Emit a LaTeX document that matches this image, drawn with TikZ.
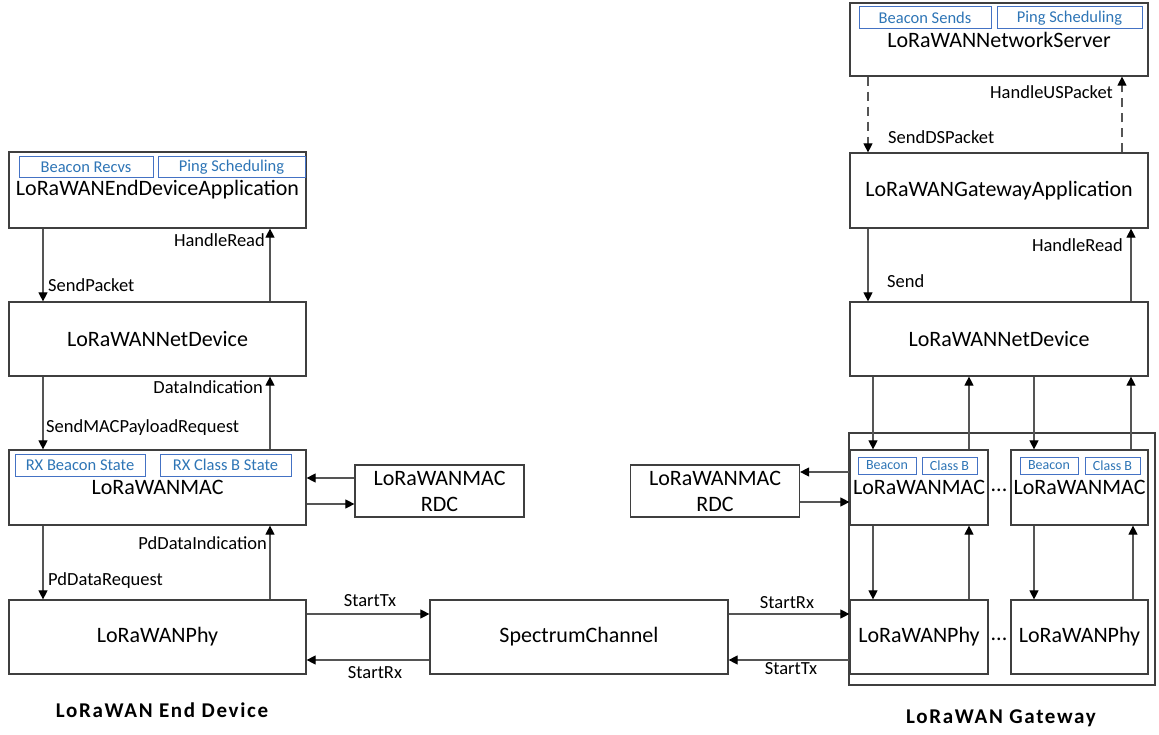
\documentclass[tikz,border=0pt]{standalone}
\usepackage{fontspec}
\setmainfont{Carlito}
\usetikzlibrary{arrows.meta,positioning}
\definecolor{boxgray}{HTML}{3F3F3F}
\definecolor{linegray}{HTML}{555555}
\definecolor{subblue}{HTML}{4472C4}
\definecolor{subtext}{HTML}{2E75B6}
\tikzset{
  mainbox/.style={draw=boxgray,line width=1.2pt,fill=white,inner sep=0pt,font=\fontsize{22}{26}\selectfont},
  subbox/.style={draw=subblue,line width=1pt,inner sep=0pt,text=subtext,font=\fontsize{16.5}{19}\selectfont},
  tinybox/.style={draw=subblue,line width=0.9pt,inner sep=0pt,text=subtext,font=\fontsize{14}{16}\selectfont},
  lbl/.style={inner sep=0pt,font=\fontsize{18.5}{21}\selectfont},
  arr/.style={draw=linegray,line width=1.1pt,-{Triangle[length=9pt,width=9pt,color=black]}},
  darr/.style={arr,dash pattern=on 9pt off 6pt},
  title/.style={inner sep=0pt,font=\fontsize{21}{25}\selectfont\bfseries\addfontfeatures{LetterSpace=8}}
}
\begin{document}
\begin{tikzpicture}[x=1pt,y=-1pt]
\useasboundingbox (0,0) rectangle (1159,735);
% ---------- End device side ----------
\node[mainbox,minimum width=297pt,minimum height=76pt] (app) at (157.5,190) {LoRaWANEndDeviceApplication};
\node[subbox,minimum width=134pt,minimum height=21pt] (br) at (86,167.5) {Beacon Recvs};
\node[subbox,minimum width=147pt,minimum height=21pt] (ps1) at (231.5,167.5) {Ping Scheduling};
\node[mainbox,minimum width=297pt,minimum height=74pt] (nd) at (157.5,339) {LoRaWANNetDevice};
\node[mainbox,minimum width=297pt,minimum height=75pt] (mac) at (157.5,487.5) {LoRaWANMAC};
\node[subbox,minimum width=130pt,minimum height=22pt] (rxb) at (80,465) {RX Beacon State};
\node[subbox,minimum width=131pt,minimum height=22pt] (rxc) at (225.5,465) {RX Class B State};
\node[mainbox,minimum width=169pt,minimum height=52pt,align=center] (rdc1) at (439.5,491) {LoRaWANMAC\\RDC};
\node[mainbox,minimum width=297pt,minimum height=74pt] (phy) at (157.5,637) {LoRaWANPhy};
\node[mainbox,minimum width=298pt,minimum height=74pt] (sc) at (579,637) {SpectrumChannel};
% ---------- Gateway side ----------
\node[mainbox,minimum width=298pt,minimum height=73pt] (ns) at (999,39.5) {LoRaWANNetworkServer};
\node[subbox,minimum width=132pt,minimum height=22pt] (bs) at (925,18) {Beacon Sends};
\node[subbox,minimum width=145pt,minimum height=22pt] (ps2) at (1069.5,18) {Ping Scheduling};
\node[mainbox,minimum width=298pt,minimum height=75pt] (gapp) at (999,190.5) {LoRaWANGatewayApplication};
\node[mainbox,minimum width=298pt,minimum height=74pt] (gnd) at (999,339) {LoRaWANNetDevice};
\node[draw=boxgray,line width=1.2pt,minimum width=306pt,minimum height=252pt,inner sep=0pt] (gbox) at (1002,559) {};
\node[mainbox,minimum width=138pt,minimum height=75pt] (gmac1) at (919,487.5) {LoRaWANMAC};
\node[tinybox,minimum width=58pt,minimum height=17pt] (gb1) at (887,465.5) {Beacon};
\node[tinybox,minimum width=55pt,minimum height=17pt] (gc1) at (949.5,465.5) {Class B};
\node[mainbox,minimum width=137pt,minimum height=75pt] (gmac2) at (1079.5,487.5) {LoRaWANMAC};
\node[tinybox,minimum width=58pt,minimum height=17pt] (gb2) at (1049,465.5) {Beacon};
\node[tinybox,minimum width=55pt,minimum height=17pt] (gc2) at (1112.5,465.5) {Class B};
\node[inner sep=0pt,font=\fontsize{22}{26}\selectfont] (dots1) at (999,490) {...};
\node[mainbox,minimum width=169pt,minimum height=52pt,align=center] (rdc2) at (715,491) {LoRaWANMAC\\RDC};
\node[mainbox,minimum width=138pt,minimum height=74pt] (gphy1) at (919,637) {LoRaWANPhy};
\node[mainbox,minimum width=137pt,minimum height=74pt] (gphy2) at (1079.5,637) {LoRaWANPhy};
\node[inner sep=0pt,font=\fontsize{22}{26}\selectfont] (dots2) at (999,639) {...};
% ---------- x guide coordinates ----------
\coordinate (xa) at (43,0);
\coordinate (xb) at (270,0);
\coordinate (xc) at (868,0);
\coordinate (xd) at (1122,0);
\coordinate (xe) at (1131,0);
\coordinate (xf) at (873,0);
\coordinate (xg) at (969,0);
\coordinate (xh) at (1034,0);
\coordinate (xi) at (1133,0);
\coordinate (ya) at (0,478);
\coordinate (yb) at (0,504);
\coordinate (yc) at (0,472);
\coordinate (yd) at (0,502);
\coordinate (ye) at (0,614);
\coordinate (yf) at (0,660);
% ---------- End device arrows ----------
\draw[arr] (app.south -| xa) -- (nd.north -| xa);
\draw[arr] (nd.north -| xb) -- (app.south -| xb);
\draw[arr] (nd.south -| xa) -- (mac.north -| xa);
\draw[arr] (mac.north -| xb) -- (nd.south -| xb);
\draw[arr] (mac.south -| xa) -- (phy.north -| xa);
\draw[arr] (phy.north -| xb) -- (mac.south -| xb);
\draw[arr] (rdc1.west |- ya) -- (mac.east |- ya);
\draw[arr] (mac.east |- yb) -- (rdc1.west |- yb);
\draw[arr] (phy.east |- ye) -- (sc.west |- ye);
\draw[arr] (sc.west |- yf) -- (phy.east |- yf);
\draw[arr] (sc.east |- ye) -- (gphy1.west |- ye);
\draw[arr] (gphy1.west |- yf) -- (sc.east |- yf);
% ---------- Gateway arrows ----------
\draw[darr] (ns.south -| xc) -- (gapp.north -| xc);
\draw[darr] (gapp.north -| xd) -- (ns.south -| xd);
\draw[arr] (gapp.south -| xc) -- (gnd.north -| xc);
\draw[arr] (gnd.north -| xe) -- (gapp.south -| xe);
\draw[arr] (gnd.south -| xf) -- (gmac1.north -| xf);
\draw[arr] (gmac1.north -| xg) -- (gnd.south -| xg);
\draw[arr] (gnd.south -| xh) -- (gmac2.north -| xh);
\draw[arr] (gmac2.north -| xe) -- (gnd.south -| xe);
\draw[arr] (gmac1.west |- yc) -- (rdc2.east |- yc);
\draw[arr] (rdc2.east |- yd) -- (gmac1.west |- yd);
\draw[arr] (gmac1.south -| xf) -- (gphy1.north -| xf);
\draw[arr] (gphy1.north -| xg) -- (gmac1.south -| xg);
\draw[arr] (gmac2.south -| xh) -- (gphy2.north -| xh);
\draw[arr] (gphy2.north -| xi) -- (gmac2.south -| xi);
% ---------- Labels ----------
\node[lbl,anchor=west] (l1) at (48,285) {SendPacket};
\node[lbl,anchor=east] (l2) at (265,240) {HandleRead};
\node[lbl,anchor=west] (l3) at (46,428) {SendMACPayloadRequest};
\node[lbl,anchor=east] (l4) at (263,387) {DataIndication};
\node[lbl,anchor=west] (l5) at (48,581) {PdDataRequest};
\node[lbl,anchor=east] (l6) at (267,543) {PdDataIndication};
\node[lbl] (l7) at (370,601) {StartTx};
\node[lbl] (l8) at (375,673) {StartRx};
\node[lbl] (l9) at (787,603) {StartRx};
\node[lbl] (l10) at (791,669) {StartTx};
\node[lbl,anchor=west] (l11) at (888,137) {SendDSPacket};
\node[lbl,anchor=east] (l12) at (1113,92) {HandleUSPacket};
\node[lbl,anchor=west] (l13) at (887,281) {Send};
\node[lbl,anchor=east] (l14) at (1123,245) {HandleRead};
\node[title] (t1) at (162,710) {LoRaWAN End Device};
\node[title] (t2) at (1001,718) {LoRaWAN Gateway};
\end{tikzpicture}
\end{document}
